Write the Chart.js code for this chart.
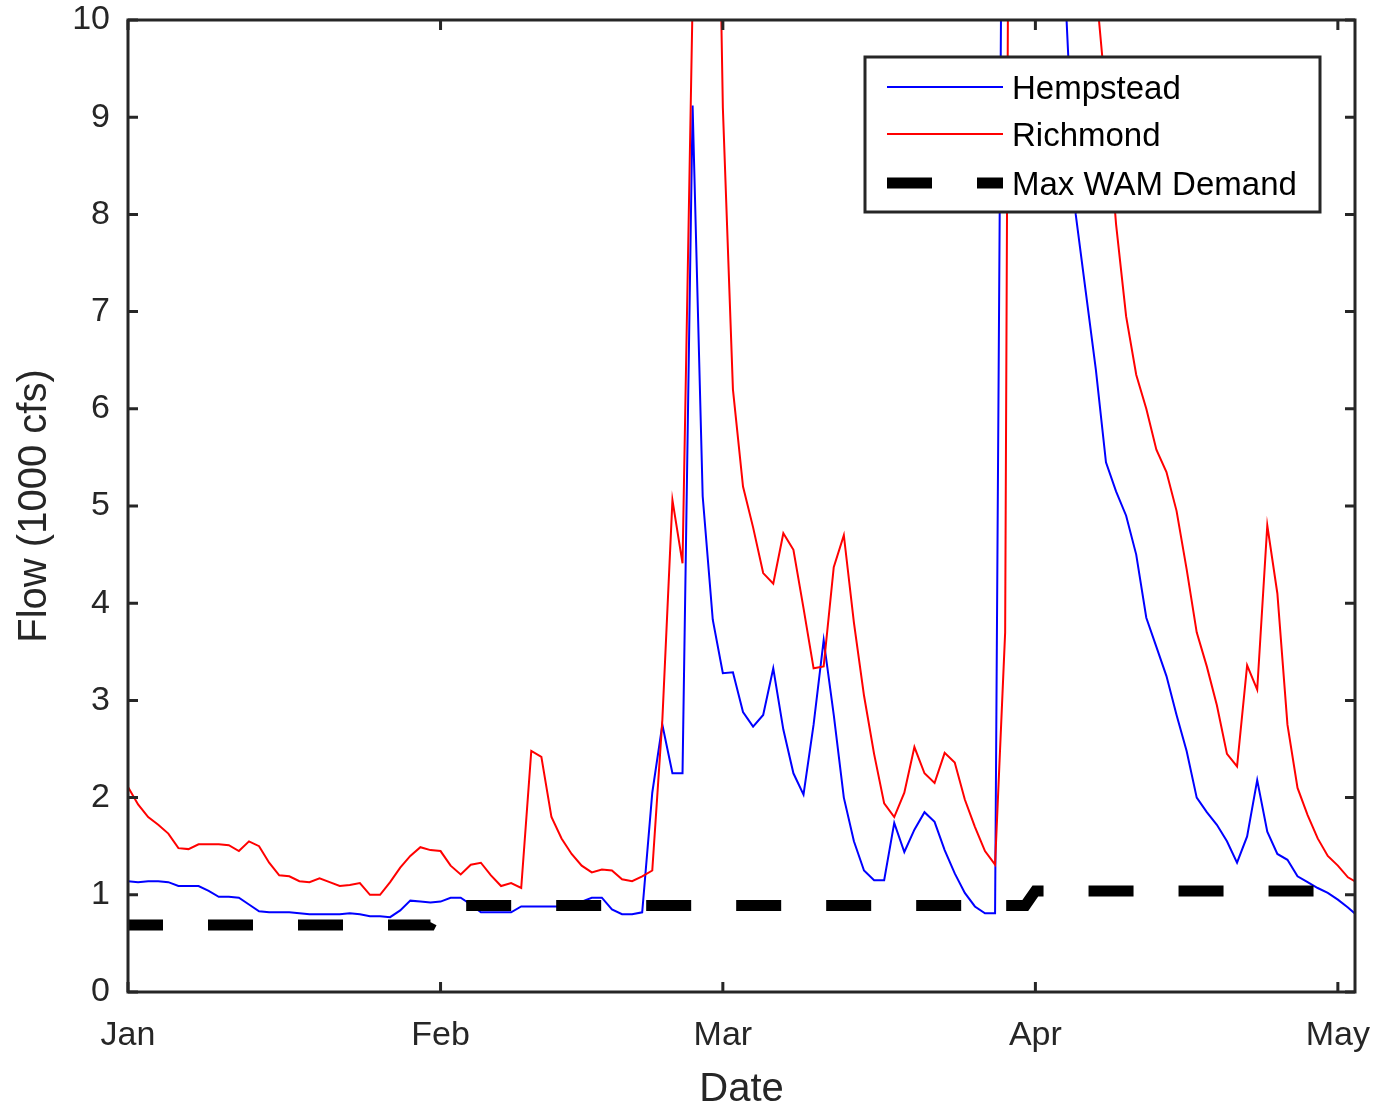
<!DOCTYPE html>
<html>
<head>
<meta charset="utf-8">
<title>Flow</title>
<script src="https://cdn.jsdelivr.net/npm/chart.js@4.4.1/dist/chart.umd.min.js"></script>
<style>
    html, body { margin: 0; padding: 0; background: #ffffff; }
    #wrap { width: 1380px; height: 1113px; }
</style>
</head>
<body>
<div id="wrap"><canvas id="flowChart" width="1380" height="1113"></canvas></div>
<script>
// day of year (0 = Jan 1)
var days = [
    0, 1, 2, 3, 4, 5, 6, 7, 8, 9, 10, 11, 12, 13, 14, 15, 16, 17, 18, 19,
    20, 21, 22, 23, 24, 25, 26, 27, 28, 29, 30, 31, 32, 33, 34, 35, 36, 37, 38, 39,
    40, 41, 42, 43, 44, 45, 46, 47, 48, 49, 50, 51, 52, 53, 54, 55, 56, 57, 58, 59,
    60, 61, 62, 63, 64, 65, 66, 67, 68, 69, 70, 71, 72, 73, 74, 75, 76, 77, 78, 79,
    80, 81, 82, 83, 84, 85, 86, 87, 88, 89, 90, 91, 92, 93, 94, 95, 96, 97, 98, 99,
    100, 101, 102, 103, 104, 105, 106, 107, 108, 109, 110, 111, 112, 113, 114, 115, 116, 117, 118, 119,
    120, 121, 122
];

// flow, 1000 cfs
var hempstead = [
    1.14, 1.13, 1.14, 1.14, 1.13, 1.09, 1.09, 1.09, 1.04, 0.98, 0.98, 0.97, 0.90, 0.83, 0.82, 0.82, 0.82, 0.81, 0.80, 0.80,
    0.80, 0.80, 0.81, 0.80, 0.78, 0.78, 0.77, 0.84, 0.94, 0.93, 0.92, 0.93, 0.97, 0.97, 0.90, 0.82, 0.82, 0.82, 0.82, 0.88,
    0.88, 0.88, 0.88, 0.88, 0.89, 0.93, 0.97, 0.97, 0.85, 0.80, 0.80, 0.82, 2.05, 2.75, 2.25, 2.25, 9.12, 5.10, 3.83, 3.28,
    3.29, 2.88, 2.73, 2.85, 3.33, 2.70, 2.25, 2.03, 2.75, 3.62, 2.85, 2.00, 1.55, 1.25, 1.15, 1.15, 1.74, 1.44, 1.67, 1.85,
    1.75, 1.46, 1.22, 1.02, 0.88, 0.81, 0.81, 16.5, 25.0, 28.0, 26.0, 22.0, 16.0, 10.2, 8.00, 7.20, 6.40, 5.45, 5.15, 4.90,
    4.50, 3.85, 3.55, 3.25, 2.85, 2.48, 2.00, 1.85, 1.72, 1.55, 1.33, 1.60, 2.18, 1.65, 1.42, 1.36, 1.19, 1.13, 1.07, 1.02,
    0.95, 0.87, 0.78
];

var richmond = [
    2.11, 1.93, 1.80, 1.72, 1.63, 1.48, 1.47, 1.52, 1.52, 1.52, 1.51, 1.45, 1.55, 1.50, 1.33, 1.20, 1.19, 1.14, 1.13, 1.17,
    1.13, 1.09, 1.10, 1.12, 1.00, 1.00, 1.13, 1.28, 1.40, 1.49, 1.46, 1.45, 1.30, 1.21, 1.31, 1.33, 1.20, 1.09, 1.12, 1.07,
    2.48, 2.42, 1.80, 1.58, 1.42, 1.30, 1.23, 1.26, 1.25, 1.16, 1.14, 1.19, 1.25, 2.80, 5.06, 4.41, 10.2, 14.5, 15.1, 9.10,
    6.20, 5.20, 4.78, 4.31, 4.20, 4.72, 4.55, 3.95, 3.33, 3.35, 4.37, 4.70, 3.80, 3.05, 2.45, 1.94, 1.80, 2.05, 2.52, 2.25,
    2.15, 2.46, 2.36, 1.98, 1.70, 1.45, 1.31, 3.70, 27.0, 32.0, 30.0, 26.0, 22.0, 18.0, 14.5, 12.0, 10.35, 9.20, 7.90, 6.95,
    6.35, 6.00, 5.58, 5.35, 4.95, 4.35, 3.70, 3.35, 2.95, 2.45, 2.32, 3.36, 3.11, 4.80, 4.10, 2.75, 2.10, 1.82, 1.58, 1.40,
    1.30, 1.18, 1.12
];

var demandDays = [0, 30, 31, 89, 90, 122];
var demandFlow = [0.69, 0.69, 0.89, 0.89, 1.04, 1.04];

var monthStarts = [0, 31, 59, 90, 120];
var monthLabels = ['Jan', 'Feb', 'Mar', 'Apr', 'May'];

var AXIS = '#262626';
var FONT = "'Liberation Sans', Arial, Helvetica, sans-serif";
var TICK = 10;

function pairs(xs, ys) {
    return xs.map(function (x, i) { return { x: x, y: ys[i] }; });
}

// keep the plot box where the layout padding puts it
function noLabelPadding(scale) {
    scale.paddingLeft = 0;
    scale.paddingRight = 0;
    scale.paddingTop = 0;
    scale.paddingBottom = 0;
}

// MATLAB style box with inward ticks on all four sides
var frameTicks = {
    id: 'frameTicks',
    afterDatasetsDraw: function (chart) {
        var ctx = chart.ctx, a = chart.chartArea;
        var xs = chart.scales.x, ys = chart.scales.y;
        ctx.save();
        ctx.strokeStyle = AXIS;
        ctx.lineWidth = 3;
        ctx.strokeRect(a.left, a.top, a.right - a.left, a.bottom - a.top);
        ctx.beginPath();
        ys.ticks.forEach(function (t) {
            var y = ys.getPixelForValue(t.value);
            ctx.moveTo(a.left, y);  ctx.lineTo(a.left + TICK, y);
            ctx.moveTo(a.right, y); ctx.lineTo(a.right - TICK, y);
        });
        xs.ticks.forEach(function (t) {
            var x = xs.getPixelForValue(t.value);
            ctx.moveTo(x, a.bottom); ctx.lineTo(x, a.bottom - TICK);
            ctx.moveTo(x, a.top);    ctx.lineTo(x, a.top + TICK);
        });
        ctx.stroke();
        ctx.restore();
    }
};

// boxed legend in the upper right corner
var boxLegend = {
    id: 'boxLegend',
    afterDraw: function (chart) {
        var ctx = chart.ctx;
        var rows = [87, 134, 183];
        ctx.save();
        ctx.fillStyle = '#ffffff';
        ctx.fillRect(865, 57, 455, 155);
        ctx.strokeStyle = AXIS;
        ctx.lineWidth = 3;
        ctx.strokeRect(865, 57, 455, 155);
        chart.data.datasets.forEach(function (ds, i) {
            var y = rows[i];
            ctx.beginPath();
            ctx.setLineDash(ds.borderDash || []);
            ctx.lineDashOffset = 0;
            ctx.lineWidth = ds.borderWidth;
            ctx.strokeStyle = ds.borderColor;
            ctx.moveTo(887, y);
            ctx.lineTo(1003, y);
            ctx.stroke();
            ctx.setLineDash([]);
            ctx.fillStyle = '#000000';
            ctx.font = '33px ' + FONT;
            ctx.textAlign = 'left';
            ctx.textBaseline = 'middle';
            ctx.fillText(ds.label, 1012, y + 3);
        });
        ctx.restore();
    }
};

new Chart(document.getElementById('flowChart'), {
    type: 'line',
    data: {
        datasets: [{
            label: 'Hempstead',
            data: pairs(days, hempstead),
            borderColor: '#0000ff',
            borderWidth: 2,
            pointRadius: 0,
            order: 2
        }, {
            label: 'Richmond',
            data: pairs(days, richmond),
            borderColor: '#ff0000',
            borderWidth: 2,
            pointRadius: 0,
            order: 1
        }, {
            label: 'Max WAM Demand',
            data: pairs(demandDays, demandFlow),
            borderColor: '#000000',
            borderWidth: 11,
            borderDash: [45, 45],
            borderDashOffset: 10,
            pointRadius: 0,
            order: 0
        }]
    },
    options: {
        responsive: false,
        animation: false,
        layout: { padding: { left: 0, right: 25, top: 20, bottom: 0 } },
        plugins: {
            legend: { display: false },
            tooltip: { enabled: false }
        },
        scales: {
            x: {
                type: 'linear',
                min: 0,
                max: 121.7,
                grid: { display: false },
                border: { display: false },
                afterBuildTicks: function (scale) {
                    scale.ticks = monthStarts.map(function (v) { return { value: v }; });
                },
                afterFit: function (scale) {
                    scale.height = 121;
                    noLabelPadding(scale);
                },
                ticks: {
                    autoSkip: false,
                    maxRotation: 0,
                    padding: 15,
                    color: AXIS,
                    font: { family: FONT, size: 34 },
                    callback: function (v) { return monthLabels[monthStarts.indexOf(v)]; }
                },
                title: {
                    display: true,
                    text: 'Date',
                    color: AXIS,
                    font: { family: FONT, size: 40, lineHeight: 1 },
                    padding: { top: 0, bottom: 3 }
                }
            },
            y: {
                min: 0,
                max: 10,
                grid: { display: false },
                border: { display: false },
                afterFit: function (scale) {
                    scale.width = 128;
                    noLabelPadding(scale);
                },
                ticks: {
                    stepSize: 1,
                    padding: 10,
                    color: AXIS,
                    font: { family: FONT, size: 34 }
                },
                title: {
                    display: true,
                    text: 'Flow (1000 cfs)',
                    color: AXIS,
                    font: { family: FONT, size: 40 },
                    padding: { top: 11, bottom: 0 }
                }
            }
        }
    },
    plugins: [frameTicks, boxLegend]
});
</script>
</body>
</html>
